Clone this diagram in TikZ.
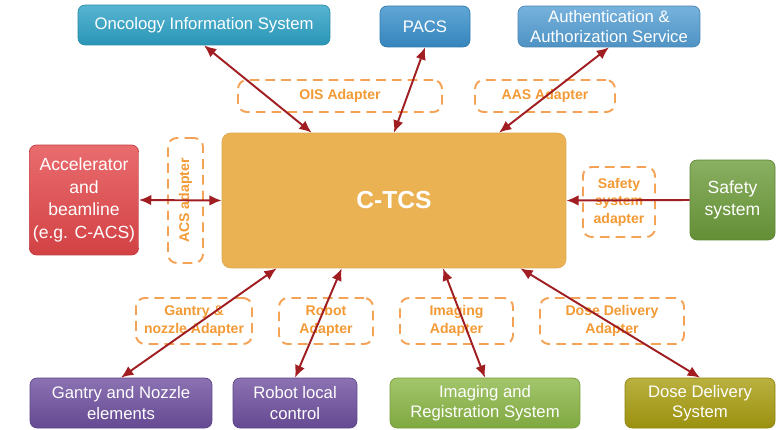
\documentclass[tikz,border=0pt]{standalone}
\usepackage{fontspec}
\setmainfont{Liberation Sans}
\usepackage{xcolor}
\usepackage{tikz}
\usetikzlibrary{arrows.meta,calc}
\definecolor{ois}{HTML}{2DA2C6}
\definecolor{pacs}{HTML}{3990CC}
\definecolor{aas}{HTML}{559FD4}
\definecolor{core}{HTML}{EAB253}
\definecolor{accel}{HTML}{E4474A}
\definecolor{safe}{HTML}{6C9B3A}
\definecolor{gantry}{HTML}{6E4F9F}
\definecolor{imag}{HTML}{8BB746}
\definecolor{dose}{HTML}{A89D10}
\definecolor{adapt}{HTML}{F4A255}
\definecolor{adtext}{HTML}{F39A35}
\definecolor{link}{HTML}{A01E22}

\tikzset{
  sysbox/.style={rounded corners=4pt,draw=#1!85!black,line width=0.4pt,
    top color=#1!80!white,bottom color=#1!92!black,text=white,align=center,
    font=\fontsize{9.5}{11.5}\selectfont,inner sep=2pt},
  adbox/.style={rounded corners=5pt,draw=adapt,line width=1.1pt,
    dash pattern=on 5.5pt off 3.5pt,text=adtext,align=center,
    font=\fontsize{8}{10}\selectfont\bfseries,inner sep=1pt},
  both/.style={link,line width=1.1pt,{Latex[length=7pt,width=6pt]}-{Latex[length=7pt,width=6pt]}},
  one/.style={link,line width=1.1pt,-{Latex[length=7pt,width=6pt]}}
}

\begin{document}
\begin{tikzpicture}[x=0.02cm,y=-0.02cm]
\useasboundingbox[fill=white] (0,0) rectangle (776,429);

% adapters
\node[adbox,minimum width=4.08cm,minimum height=0.64cm] (oisad) at (340,96) {OIS Adapter};
\node[adbox,minimum width=2.8cm,minimum height=0.64cm] (aasad) at (545,96) {AAS Adapter};
\node[adbox,minimum width=0.7cm,minimum height=2.5cm] (acsad) at (185.5,200.5) {};
\node[text=adtext,font=\fontsize{8}{10}\selectfont\bfseries,rotate=90] at (acsad) {ACS adapter};
\node[adbox,minimum width=1.44cm,minimum height=1.4cm] (safead) at (619,202) {Safety\\system\\adapter};
\node[adbox,minimum width=2.32cm,minimum height=0.92cm] (gantryad) at (194,321) {Gantry \&\\nozzle Adapter};
\node[adbox,minimum width=1.88cm,minimum height=0.92cm] (robotad) at (326,321) {Robot\\Adapter};
\node[adbox,minimum width=2.26cm,minimum height=0.92cm] (imagad) at (456.5,321) {Imaging\\Adapter};
\node[adbox,minimum width=2.88cm,minimum height=0.92cm] (dosead) at (612,321) {Dose Delivery\\Adapter};

% systems
\node[rounded corners=5pt,fill=core,draw=core!95!black,text=white,minimum width=6.88cm,minimum height=2.7cm,font=\fontsize{14}{16}\selectfont\bfseries] (ctcs) at (394,200.5) {C-TCS};
\node[sysbox=ois,minimum width=5.04cm,minimum height=0.8cm] (ois) at (204,25) {Oncology Information System};
\node[sysbox=pacs,minimum width=1.8cm,minimum height=0.82cm] (pacs) at (425,26.5) {PACS};
\node[sysbox=aas,minimum width=3.64cm,minimum height=0.82cm] (aas) at (609,26.5) {Authentication \&\\Authorization Service};
\node[sysbox=accel,minimum width=2.16cm,minimum height=2.2cm,font=\fontsize{10}{13}\selectfont] (accel) at (84,200) {Accelerator\\and\\beamline\\(e.g. C-ACS)};
\node[sysbox=safe,minimum width=1.7cm,minimum height=1.6cm,font=\fontsize{10}{13}\selectfont] (safety) at (732.5,200) {Safety\\system};
\node[sysbox=gantry,minimum width=3.64cm,minimum height=1.0cm] (gantry) at (121,403) {Gantry and Nozzle\\elements};
\node[sysbox=gantry,minimum width=2.48cm,minimum height=1.0cm] (robot) at (295,403) {Robot local\\control};
\node[sysbox=imag,minimum width=3.8cm,minimum height=1.0cm] (imaging) at (485,403) {Imaging and\\Registration System};
\node[sysbox=dose,minimum width=3.0cm,minimum height=1.0cm] (dose) at (700,403) {Dose Delivery\\System};

% links to the control system
\draw[both] (ois.south) -- ($(ctcs.north west)+(90,0)$);
\draw[both] (pacs.south) -- (ctcs.north);
\draw[both] (aas.south) -- ($(ctcs.north)+(105,0)$);
\draw[both] (accel.east) -- (ctcs.west);
\draw[one] (safety.west) -- (ctcs.east);
\draw[both] (gantry.north) -- ($(ctcs.south west)+(55,0)$);
\draw[both] (robot.north) -- ($(ctcs.south west)+(120,0)$);
\draw[both] (imaging.north) -- ($(ctcs.south)+(49,0)$);
\draw[both] (dose.north) -- ($(ctcs.south east)+(-46,0)$);
\end{tikzpicture}
\end{document}
